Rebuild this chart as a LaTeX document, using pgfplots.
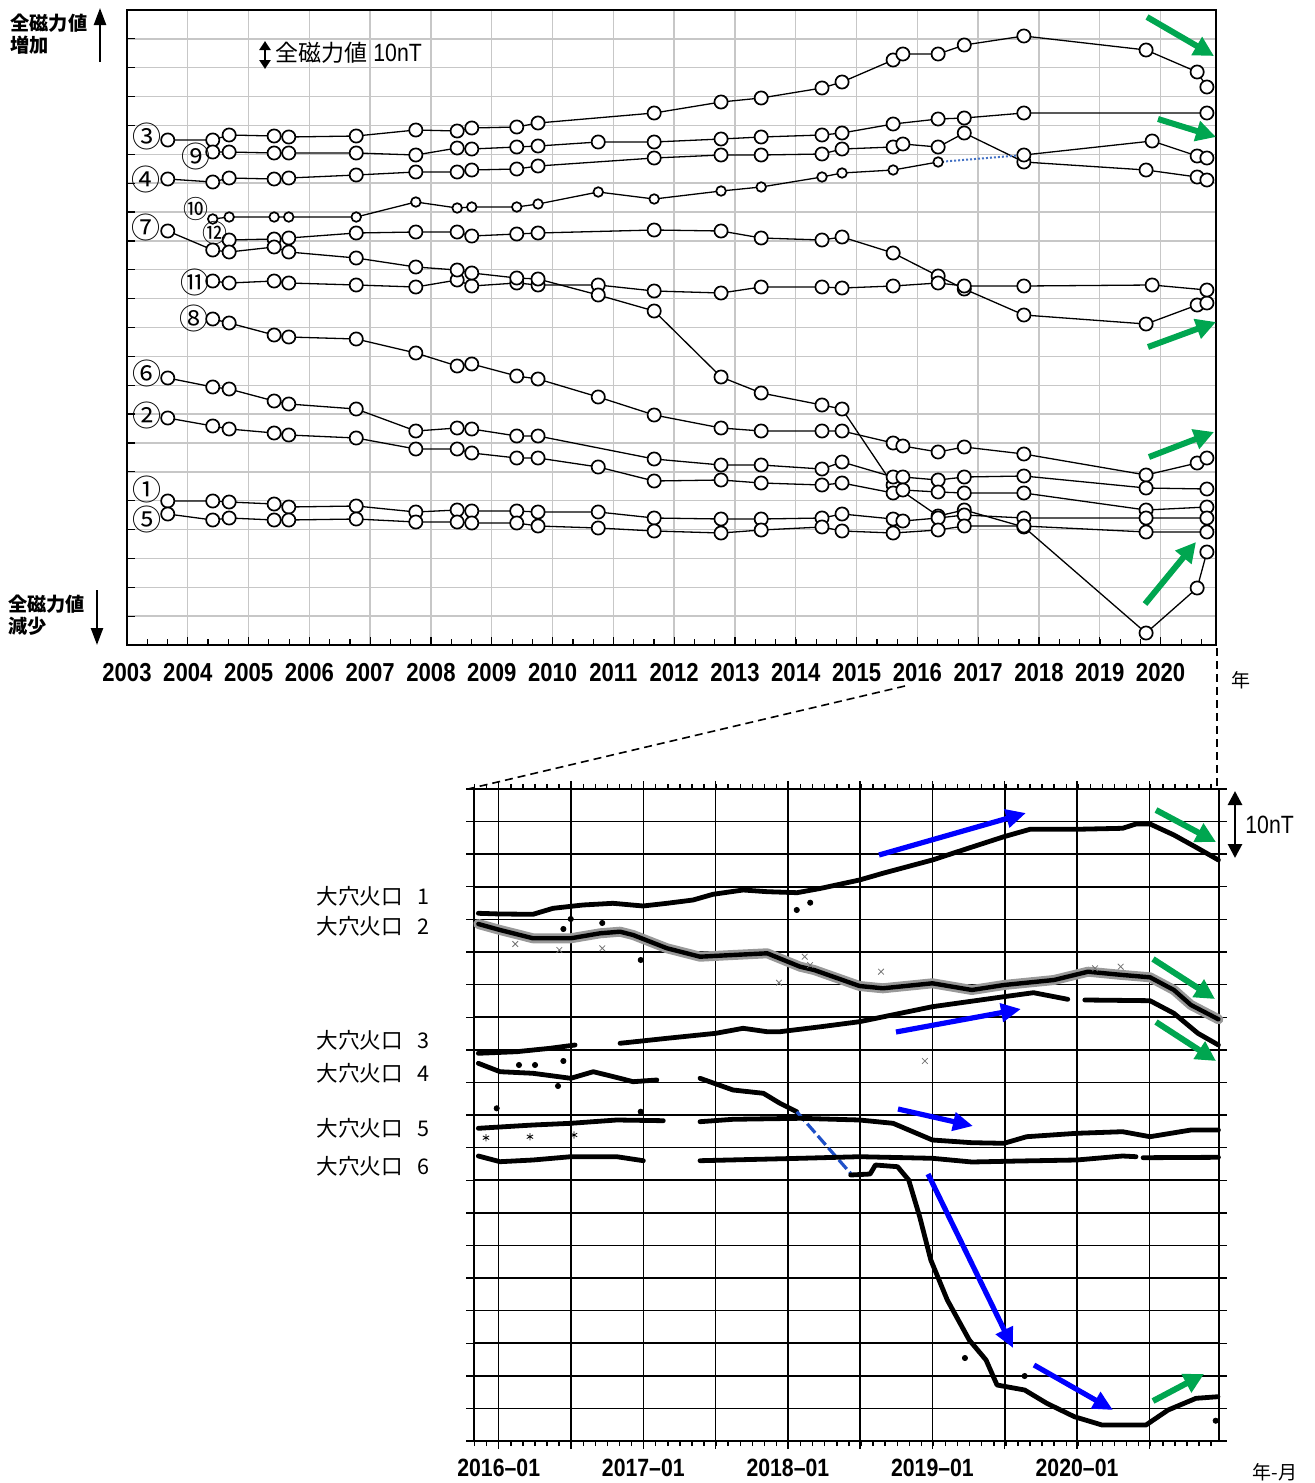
\documentclass[border=0pt]{standalone}
\usepackage{fontspec}
\setmainfont{Liberation Sans}
\newfontfamily\cjk{Noto Sans CJK JP}
\newfontfamily\narrow{Liberation Sans}[FakeStretch=0.85]
\usepackage{pgfplots}
\pgfplotsset{compat=1.18}
\usetikzlibrary{arrows.meta}
\definecolor{garrow}{RGB}{0,166,80}
\definecolor{barrow}{RGB}{0,0,255}
\definecolor{dotblue}{RGB}{68,114,196}
\definecolor{dashblue}{RGB}{30,80,200}
\pgfplotsset{
 circ/.style={black, line width=0.65pt, mark=*, mark size=3.3pt, mark options={fill=white, draw=black, line width=0.85pt}},
 scirc/.style={circ, mark size=2.4pt},
 band/.style={black, line width=2.4pt, line join=round, line cap=round},
}
\begin{document}
\begin{tikzpicture}
\useasboundingbox (0,0) rectangle (657pt,-741.5pt);
% ================= TOP CHART =================
\begin{axis}[at={(63.5pt,-322.5pt)}, anchor=south west, scale only axis,
 width=544.5pt, height=317.5pt, xmin=2003, xmax=2020.91, ymin=0, ymax=635, clip=false,
 xtick={2003,2004,...,2020},
 xticklabels={2003,2004,2005,2006,2007,2008,2009,2010,2011,2012,2013,2014,2015,2016,2017,2018,2019,2020},
 minor xtick={2003.3333,2003.6667,...,2020.9},
 ytick={0,28.8636,...,620}, yticklabels={},
 tick align=inside, xtick pos=left, ytick pos=left,
 grid=major, major grid style={black!22, line width=0.7pt},
 axis line style={black, line width=0.9pt},
 major tick length=4pt, minor tick length=3pt,
 tick style={black, line width=0.6pt},
 xticklabel style={font=\narrow\bfseries\fontsize{13}{13}\selectfont, yshift=-5.5pt},
]
% 3
\addplot[circ] coordinates {(2003.67,505)(2004.41,505)(2004.68,510)(2005.42,509)(2005.66,508)(2006.77,509)(2007.75,515)(2008.43,514)(2008.67,517)(2009.41,518)(2009.76,522)(2011.67,532)(2012.77,543)(2013.43,547)(2014.43,557)(2014.76,563)(2015.60,585)(2015.76,591)(2016.34,591)(2016.77,600)(2017.75,609)(2019.76,595)(2020.60,573)(2020.76,558)};
% 9
\addplot[circ] coordinates {(2004.41,493)(2004.68,493)(2005.42,492)(2005.66,492)(2006.77,492)(2007.75,490)(2008.43,497)(2008.67,496)(2009.41,498)(2009.76,499)(2010.75,503)(2011.67,503)(2012.77,506)(2013.43,508)(2014.43,510)(2014.76,512)(2015.60,521)(2016.34,526)(2016.77,527)(2017.75,532)(2020.76,532)};
% 4
\addplot[circ] coordinates {(2003.67,466)(2004.41,463)(2004.68,467)(2005.42,466)(2005.66,467)(2006.77,470)(2007.75,473)(2008.43,473)(2008.67,475)(2009.41,476)(2009.76,479)(2011.67,487)(2012.77,490)(2013.43,490)(2014.43,491)(2014.76,496)(2015.60,498)(2015.76,501)(2016.34,498)(2016.77,512)(2017.75,483)(2019.76,475)(2020.60,468)(2020.76,465)};
% 10
\addplot[dotblue, densely dotted, line width=1pt] coordinates {(2016.34,483)(2017.75,490)};
\addplot[scirc] coordinates {(2004.41,426)(2004.68,428)(2005.42,428)(2005.66,428)(2006.77,428)(2007.75,443)(2008.43,437)(2008.67,438)(2009.41,438)(2009.76,441)(2010.75,453)(2011.67,446)(2012.77,454)(2013.43,458)(2014.43,468)(2014.76,472)(2015.60,475)(2016.34,483)};
\addplot[circ] coordinates {(2017.75,490)(2019.86,504)(2020.60,489)(2020.76,487)};
% 12
\addplot[circ] coordinates {(2004.68,405)(2005.42,406)(2005.66,407)(2006.77,412)(2007.75,413)(2008.43,413)(2008.67,409)(2009.41,411)(2009.76,412)(2011.67,415)(2012.77,414)(2013.43,407)(2014.43,405)(2014.76,408)(2015.60,392)(2016.34,369)(2016.77,356)(2017.75,330)(2019.76,321)(2020.60,340)(2020.76,342)};
% 11
\addplot[circ] coordinates {(2004.41,364)(2004.68,362)(2005.42,364)(2005.66,362)(2006.77,360)(2007.75,358)(2008.43,365)(2008.67,359)(2009.41,362)(2009.76,360)(2010.75,360)(2011.67,354)(2012.77,352)(2013.43,358)(2014.43,358)(2014.76,357)(2015.60,359)(2016.34,362)(2016.77,359)(2017.75,359)(2019.86,360)(2020.76,355)};
% 7
\addplot[circ] coordinates {(2003.67,414)(2004.41,395)(2004.68,393)(2005.42,398)(2005.66,393)(2006.77,387)(2007.75,378)(2008.43,375)(2008.67,372)(2009.41,367)(2009.76,366)(2010.75,350)(2011.67,334)(2012.77,268)(2013.43,252)(2014.43,240)(2014.76,236)(2015.60,160)(2016.34,129)(2016.77,135)(2017.75,118)(2019.76,12)(2020.60,57)(2020.76,93)};
% 8
\addplot[circ] coordinates {(2004.41,326)(2004.68,322)(2005.42,310)(2005.66,308)(2006.77,306)(2007.75,292)(2008.43,279)(2008.67,281)(2009.41,269)(2009.76,266)(2010.75,248)(2011.67,230)(2012.77,217)(2013.43,214)(2014.43,214)(2014.76,214)(2015.60,202)(2015.76,199)(2016.34,193)(2016.77,198)(2017.75,191)(2019.76,170)(2020.60,182)(2020.76,187)};
% 6
\addplot[circ] coordinates {(2003.67,267)(2004.41,258)(2004.68,256)(2005.42,244)(2005.66,241)(2006.77,236)(2007.75,214)(2008.43,217)(2008.67,216)(2009.41,209)(2009.76,209)(2011.67,186)(2012.77,180)(2013.43,180)(2014.43,176)(2014.76,183)(2015.60,168)(2015.76,168)(2016.34,165)(2016.77,168)(2017.75,169)(2019.76,157)(2020.76,156)};
% 2
\addplot[circ] coordinates {(2003.67,227)(2004.41,219)(2004.68,216)(2005.42,212)(2005.66,210)(2006.77,207)(2007.75,196)(2008.43,196)(2008.67,192)(2009.41,187)(2009.76,187)(2010.75,178)(2011.67,164)(2012.77,165)(2013.43,162)(2014.43,160)(2014.76,162)(2015.60,152)(2015.76,155)(2016.34,153)(2016.77,152)(2017.75,152)(2019.76,135)(2020.76,138)};
% 1
\addplot[circ] coordinates {(2003.67,144)(2004.41,144)(2004.68,143)(2005.42,141)(2005.66,138)(2006.77,139)(2007.75,133)(2008.43,135)(2008.67,134)(2009.41,134)(2009.76,133)(2010.75,133)(2011.67,127)(2012.77,126)(2013.43,126)(2014.43,127)(2014.76,131)(2015.60,126)(2015.76,124)(2016.34,127)(2016.77,130)(2017.75,127)(2019.76,127)(2020.76,127)};
% 5
\addplot[circ] coordinates {(2003.67,131)(2004.41,125)(2004.68,127)(2005.42,125)(2005.66,125)(2006.77,126)(2007.75,123)(2008.43,123)(2008.67,122)(2009.41,122)(2009.76,119)(2010.75,117)(2011.67,114)(2012.77,112)(2013.43,115)(2014.43,118)(2014.76,114)(2015.60,112)(2016.34,115)(2016.77,119)(2017.75,119)(2019.76,113)(2020.76,113)};
\end{axis}
% ================= BOTTOM CHART =================
\begin{axis}[at={(237pt,-720.5pt)}, anchor=south west, scale only axis,
 width=372.5pt, height=326pt, xmin=2015.829, xmax=2020.981, ymin=0, ymax=652, clip=false,
 xtick={2016,2016.5,...,2020.5},
 xticklabels={2016\textendash01,,2017\textendash01,,2018\textendash01,,2019\textendash01,,2020\textendash01,},
 minor xtick={2015.8333,2015.9167,...,2021},
 ytick={0,32.6,...,640}, yticklabels={},
 tick align=outside, xtick pos=both, ytick pos=both, xticklabel pos=left,
 grid=major, major grid style={black, line width=0.75pt},
 axis line style={black, line width=1.4pt},
 major tick length=4pt, minor tick length=2.5pt,
 tick style={black, line width=0.7pt},
 xticklabel style={font=\narrow\bfseries\fontsize{12.5}{12.5}\selectfont, yshift=-1.5pt},
]
% series 1
\addplot[band] coordinates {(2015.859,527.7)(2016.009,527)(2016.237,526.7)(2016.376,532.7)(2016.583,536)(2016.790,537.7)(2016.998,535)(2017.164,537.7)(2017.344,541)(2017.482,546.7)(2017.690,551)(2017.856,549.3)(2018.063,548.3)(2018.229,552.7)(2018.495,561)(2018.656,567.7)(2018.999,581)(2019.246,592.7)(2019.494,604.3)(2019.674,611.7)(2019.997,611.7)(2020.314,612.7)(2020.407,617)(2020.504,617)(2020.669,606)(2020.835,592.7)(2020.977,581)};
\addplot[only marks, mark=*, mark size=1.3pt, black] coordinates {(2016.498,522)(2018.061,531)(2018.154,538.3)};
% series 2
\addplot[black!40, line width=5pt, line join=round, line cap=round] coordinates {(2015.859,517)(2016.009,511)(2016.237,502.7)(2016.498,502.7)(2016.701,507.7)(2016.839,509.3)(2016.929,506)(2017.164,492.7)(2017.392,484.3)(2017.620,486)(2017.856,487.7)(2018.084,474.3)(2018.181,471)(2018.495,455)(2018.656,452.7)(2018.999,457.7)(2019.272,451)(2019.494,456)(2019.840,461)(2020.075,469.3)(2020.314,466)(2020.504,463.7)(2020.669,451)(2020.787,436)(2020.977,421.7)};
\addplot[black, line width=2.2pt, line join=round, line cap=round] coordinates {(2015.859,517)(2016.009,511)(2016.237,502.7)(2016.498,502.7)(2016.701,507.7)(2016.839,509.3)(2016.929,506)(2017.164,492.7)(2017.392,484.3)(2017.620,486)(2017.856,487.7)(2018.084,474.3)(2018.181,471)(2018.495,455)(2018.656,452.7)(2018.999,457.7)(2019.272,451)(2019.494,456)(2019.840,461)(2020.075,469.3)(2020.314,466)(2020.504,463.7)(2020.669,451)(2020.787,436)(2020.977,421.7)};
\addplot[only marks, mark=x, mark size=2pt, black!55] coordinates {(2016.114,497)(2016.419,491)(2016.716,492.7)(2017.938,458.3)(2018.116,484.3)(2018.153,476)(2018.644,469.3)(2020.124,472.7)(2020.301,474.3)(2018.947,380)};
\addplot[only marks, mark=*, mark size=1.3pt, black] coordinates {(2016.982,481)(2016.447,512)(2016.716,518)};
% series 3
\addplot[band] coordinates {(2015.859,387.7)(2016.124,389.3)(2016.355,392.7)(2016.528,396)};
\addplot[band] coordinates {(2016.839,397.7)(2017.164,402.7)(2017.501,407.7)(2017.690,412.7)(2017.856,409.3)(2017.945,409.3)(2018.229,414.3)(2018.495,419.3)(2018.999,434.3)(2019.494,444.3)(2019.698,448.3)(2019.935,441.7)};
\addplot[band] coordinates {(2020.053,441)(2020.504,440.3)(2020.669,427.7)(2020.835,407.7)(2020.977,396)};
% series 4
\addplot[band] coordinates {(2015.859,377.7)(2016.009,369.3)(2016.237,367.7)(2016.498,362.7)(2016.654,369.3)(2016.839,362.7)(2016.929,359.3)(2017.093,361)};
\addplot[band] coordinates {(2017.392,362.7)(2017.620,351)(2017.830,347.7)(2017.945,337.7)(2018.061,329.3)};
\addplot[dashblue, line width=1.6pt, dash pattern=on 6pt off 2pt] coordinates {(2018.061,329.3)(2018.443,266)};
\addplot[band] coordinates {(2018.434,266)(2018.568,267)(2018.605,276)(2018.758,274.3)(2018.835,261)(2018.911,224.3)(2018.988,181)(2019.102,141)(2019.254,101)(2019.370,81)(2019.446,56)(2019.637,51)(2019.790,37.7)(2019.981,24.3)(2020.172,16)(2020.476,16)(2020.629,31)(2020.822,42.7)(2020.974,44.3)};
\addplot[only marks, mark=*, mark size=1.3pt, black] coordinates {(2016.447,380)(2016.140,376)(2016.251,376)(2016.410,355)(2019.224,83)(2019.637,65)(2020.958,20.3)};
% series 5
\addplot[band] coordinates {(2015.859,312.7)(2016.237,316)(2016.498,317.7)(2016.816,321)(2017.138,320.3)};
\addplot[band] coordinates {(2017.392,319.3)(2017.620,321.7)(2018.084,322.7)(2018.495,321)(2018.727,317.7)(2018.999,301)(2019.272,298.3)(2019.494,297.7)(2019.651,304.3)(2019.997,307.7)(2020.314,309.3)(2020.504,304.3)(2020.787,311)(2020.977,311)};
\addplot[only marks, mark=*, mark size=1.3pt, black] coordinates {(2015.986,332.7)(2016.982,329.3)};
\addplot[only marks, mark=asterisk, mark size=1.8pt, black] coordinates {(2015.912,303.3)(2016.216,304.3)(2016.521,306)};
% series 6
\addplot[band] coordinates {(2015.859,285)(2016.009,279.3)(2016.237,281)(2016.498,284.3)(2016.816,284.3)(2017.000,280.3)};
\addplot[band] coordinates {(2017.392,280.3)(2018.084,282.7)(2018.495,284.3)(2018.999,282.7)(2019.272,279)(2019.600,280)(2019.997,281)(2020.314,285)(2020.407,284.3)};
\addplot[band] coordinates {(2020.456,283.3)(2020.977,283.7)};
\end{axis}
% ================= ANNOTATIONS (pixel coordinates) =================
\begin{scope}[x=0.5pt, y=-0.5pt]
% top left labels
\node[anchor=west, inner sep=0] at (10,23) {\cjk\bfseries\fontsize{9.6}{9.6}\selectfont 全磁力値};
\node[anchor=west, inner sep=0] at (10,45) {\cjk\bfseries\fontsize{9.6}{9.6}\selectfont 増加};
\draw[line width=1.2pt, -{Triangle[length=8.5pt,width=6pt]}] (100,62) -- (100,8);
\node[anchor=west, inner sep=0] at (8,604) {\cjk\bfseries\fontsize{9.6}{9.6}\selectfont 全磁力値};
\node[anchor=west, inner sep=0] at (8,626) {\cjk\bfseries\fontsize{9.6}{9.6}\selectfont 減少};
\draw[line width=1.2pt, -{Triangle[length=8.5pt,width=6pt]}] (97,590) -- (97,645);
% scale bar top
\draw[line width=1.4pt, {Triangle[length=4.5pt,width=5.5pt]}-{Triangle[length=4.5pt,width=5.5pt]}] (265,41) -- (265,69);
\node[anchor=west, inner sep=0] at (275,53) {\cjk\fontsize{11.5}{11.5}\selectfont 全磁力値\hspace{3pt}{\narrow\fontsize{12.5}{12.5}\selectfont 10nT}};
% circled labels
\begin{scope}[every node/.style={inner sep=0, font=\cjk\fontsize{14.5}{14.5}\selectfont}]
\node at (147,136) {③};
\node at (196,156) {⑨};
\node at (146,179) {④};
\node at (146,227) {⑦};
\node at (195,282) {⑪};
\node at (194,318) {⑧};
\node at (147,373) {⑥};
\node at (147,415) {②};
\node at (147,489) {①};
\node at (147,519) {⑤};
\end{scope}
\begin{scope}[every node/.style={inner sep=0, font=\cjk\fontsize{12.5}{12.5}\selectfont}]
\node at (196,209) {⑩};
\node at (215,233) {⑫};
\end{scope}
% green arrows top
\begin{scope}[garrow, line width=3pt, -{Triangle[length=10pt,width=10pt]}]
\draw (1147,17) -- (1214,56);
\draw (1158,119) -- (1216,137);
\draw (1148,347) -- (1216,322);
\draw (1149,457) -- (1214,432);
\draw (1145,604) -- (1196,542);
\end{scope}
% year label
\node at (1241,680) {\cjk\fontsize{9.5}{9.5}\selectfont 年};
% connectors
\draw[dashed, line width=0.8pt, dash pattern=on 4pt off 2.5pt] (905,686) -- (468,789);
\draw[dashed, line width=0.8pt, dash pattern=on 4pt off 2.5pt] (1217,648) -- (1217,789);
% bottom scale bar
\draw[line width=1.4pt, {Triangle[length=7pt,width=7pt]}-{Triangle[length=7pt,width=7pt]}] (1235,791) -- (1235,858);
\node[anchor=west, inner sep=0] at (1245,825) {\narrow\fontsize{12.5}{12.5}\selectfont 10nT};
% station labels
\begin{scope}[every node/.style={anchor=west, inner sep=0, font=\cjk\fontsize{10.8}{10.8}\selectfont}]
\node at (316,896) {大穴火口\hspace{7.5pt}1};
\node at (316,926) {大穴火口\hspace{7.5pt}2};
\node at (316,1040) {大穴火口\hspace{7.5pt}3};
\node at (316,1073) {大穴火口\hspace{7.5pt}4};
\node at (316,1128) {大穴火口\hspace{7.5pt}5};
\node at (316,1166) {大穴火口\hspace{7.5pt}6};
\end{scope}
% blue arrows
\begin{scope}[barrow, line width=2.6pt, -{Triangle[length=10pt,width=9pt]}]
\draw (879,855) -- (1026,813);
\draw (896,1032) -- (1021,1009);
\draw (898,1109) -- (973,1126);
\draw (928,1174) -- (1013,1348);
\draw (1034,1365) -- (1113,1410);
\end{scope}
% green arrows bottom
\begin{scope}[garrow, line width=3pt, -{Triangle[length=10pt,width=10pt]}]
\draw (1156,810) -- (1216,842);
\draw (1153,959) -- (1215,999);
\draw (1156,1022) -- (1216,1061);
\draw (1153,1401) -- (1204,1374);
\end{scope}
\node at (1275,1472) {\cjk\fontsize{9.5}{9.5}\selectfont 年-月};
\end{scope}
\end{tikzpicture}
\end{document}
